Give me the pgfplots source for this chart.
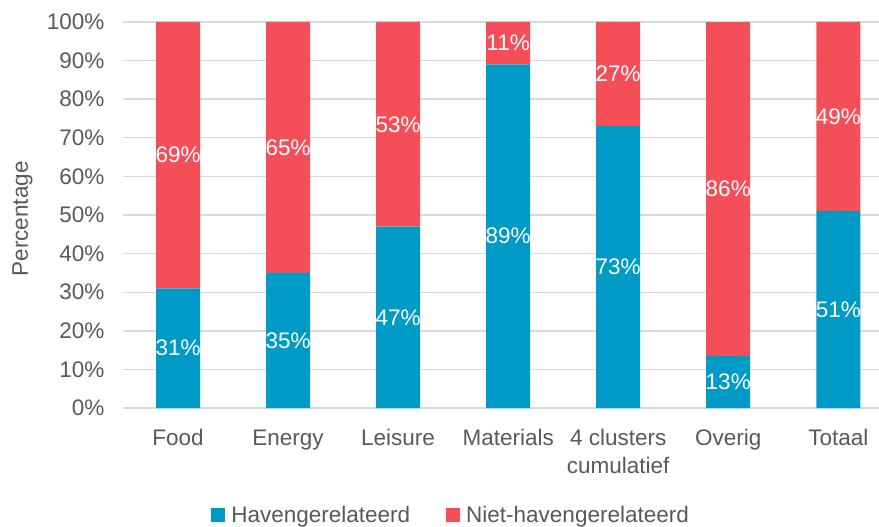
\documentclass[border=0pt]{standalone}
\usepackage{pgfplots}
\pgfplotsset{compat=1.18}
\usepackage{pgfplotstable}
\usepackage{fontspec}
\setmainfont{Liberation Sans}
\usetikzlibrary{calc}

\definecolor{haven}{HTML}{009AC7}
\definecolor{niet}{HTML}{F44F58}
\definecolor{gridgray}{HTML}{D9D9D9}
\definecolor{textgray}{HTML}{595959}
\newcommand\chartfont{\fontsize{22.5bp}{28bp}\selectfont}

% share of port-related (h) and non-port-related (n) activity per cluster
\pgfplotstableread{
x h n
0 31 69
1 35 65
2 47 53
3 89 11
4 73 27
5 13.49 86.49
6 51 49
}\shares

\begin{document}
\begin{tikzpicture}
\pgfplotsset{
  common/.style={scale only axis, width=756bp, height=386bp,
    xmin=-0.5, xmax=6.37, ymin=0, ymax=100}
}
\begin{axis}[common, name=main,
  ybar stacked, bar width=44bp,
  axis x line*=bottom, axis y line*=left,
  y axis line style={draw=none},
  x axis line style={gridgray, line width=1.4bp},
  ytick={0,10,...,100},
  ymajorgrids, grid style={gridgray, line width=1.4bp},
  tick style={draw=none}, major tick length=0pt,
  xtick={0,...,6},
  xticklabels={Food, Energy, Leisure, Materials, {4 clusters\\cumulatief}, Overig, Totaal},
  xticklabel style={align=center, text=textgray, font=\chartfont, anchor=north, yshift=-18bp},
  yticklabel={\pgfmathprintnumber[assume math mode=true]{\tick}\%},
  yticklabel style={text=textgray, font=\chartfont, xshift=-15bp},
  ylabel={Percentage},
  ylabel style={at={(rel axis cs:-0.133,0.49)}, anchor=center, rotate=0, text=textgray, font=\chartfont},
  legend style={at={(0.434,-0.277)}, anchor=center, legend columns=2, draw=none,
    font=\chartfont, text=textgray,
    /tikz/every even column/.append style={column sep=34bp}},
  legend image code/.code={\fill[#1] (0bp,-7bp) rectangle (14bp,7bp); \path (14bp,0bp) -- (18bp,0bp);},
]
\addplot[fill=haven, draw=none] table[x=x, y=h]{\shares};
\addplot[fill=niet, draw=none] table[x=x, y=n]{\shares};
\legend{Havengerelateerd, Niet-havengerelateerd}
\end{axis}

% value labels, centred in each bar segment
\begin{axis}[common, hide axis,
  point meta=explicit,
  nodes near coords={\pgfmathprintnumber[assume math mode=true, fixed, precision=0]{\pgfplotspointmeta}\%},
  every node near coord/.append style={anchor=center, text=white, font=\chartfont, inner sep=0pt},
]
\addplot[draw=none, mark=none] table[x=x, y expr=\thisrow{h}/2, meta=h]{\shares};
\addplot[draw=none, mark=none] table[x=x, y expr=\thisrow{h}+\thisrow{n}/2, meta=n]{\shares};
\end{axis}

\pgfresetboundingbox
\path[use as bounding box] ($(main.south west)+(-123bp,-119bp)$) rectangle ($(main.north east)+(0bp,22bp)$);
\end{tikzpicture}
\end{document}
